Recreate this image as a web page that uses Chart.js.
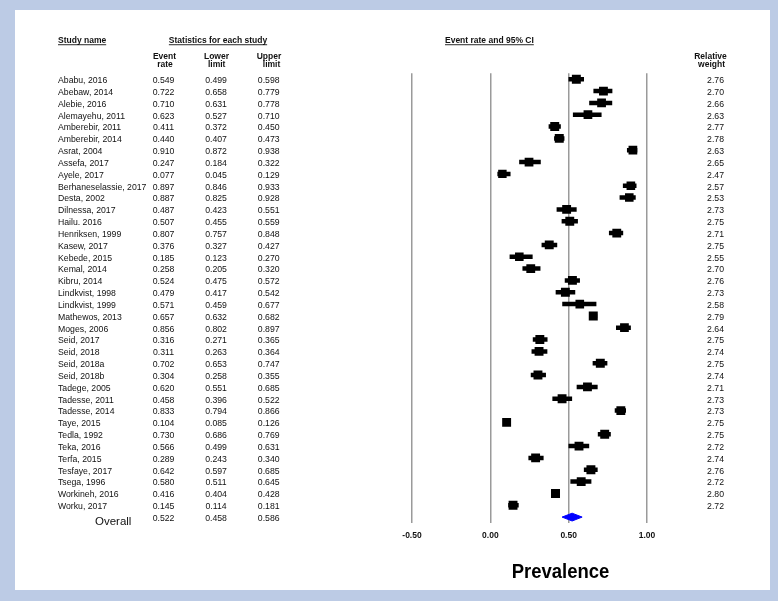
<!DOCTYPE html>
<html>
<head>
<meta charset="utf-8">
<script src="https://cdn.jsdelivr.net/npm/chart.js@4/dist/chart.umd.min.js"></script>
<style>
html,body{margin:0;padding:0;background:#bccbe5;}
canvas{display:block;}
</style>
</head>
<body>
<canvas id="c" width="778" height="601"></canvas>
<script>
// ---------------- data ----------------
const studyNames = ["Ababu, 2016","Abebaw, 2014","Alebie, 2016","Alemayehu, 2011","Amberebir, 2011","Amberebir, 2014","Asrat, 2004","Assefa, 2017","Ayele, 2017","Berhaneselassie, 2017","Desta, 2002","Dilnessa, 2017","Hailu. 2016","Henriksen, 1999","Kasew, 2017","Kebede, 2015","Kemal, 2014","Kibru, 2014","Lindkvist, 1998","Lindkvist, 1999","Mathewos, 2013","Moges, 2006","Seid, 2017","Seid, 2018","Seid, 2018a","Seid, 2018b","Tadege, 2005","Tadesse, 2011","Tadesse, 2014","Taye, 2015","Tedla, 1992","Teka, 2016","Terfa, 2015","Tesfaye, 2017","Tsega, 1996","Workineh, 2016","Worku, 2017"];
const eventRate = [0.549,0.722,0.710,0.623,0.411,0.440,0.910,0.247,0.077,0.897,0.887,0.487,0.507,0.807,0.376,0.185,0.258,0.524,0.479,0.571,0.657,0.856,0.316,0.311,0.702,0.304,0.620,0.458,0.833,0.104,0.730,0.566,0.289,0.642,0.580,0.416,0.145];
const lowerLimit = [0.499,0.658,0.631,0.527,0.372,0.407,0.872,0.184,0.045,0.846,0.825,0.423,0.455,0.757,0.327,0.123,0.205,0.475,0.417,0.459,0.632,0.802,0.271,0.263,0.653,0.258,0.551,0.396,0.794,0.085,0.686,0.499,0.243,0.597,0.511,0.404,0.114];
const upperLimit = [0.598,0.779,0.778,0.710,0.450,0.473,0.938,0.322,0.129,0.933,0.928,0.551,0.559,0.848,0.427,0.270,0.320,0.572,0.542,0.677,0.682,0.897,0.365,0.364,0.747,0.355,0.685,0.522,0.866,0.126,0.769,0.631,0.340,0.685,0.645,0.428,0.181];
const relativeWeight = [2.76,2.70,2.66,2.63,2.77,2.78,2.63,2.65,2.47,2.57,2.53,2.73,2.75,2.71,2.75,2.55,2.70,2.76,2.73,2.58,2.79,2.64,2.75,2.74,2.75,2.74,2.71,2.73,2.73,2.75,2.75,2.72,2.74,2.76,2.72,2.80,2.72];
const overallLabel = "Overall";
const overallRate = 0.522;
const overallLower = 0.458;
const overallUpper = 0.586;
const xTickValues = [-0.5, 0, 0.5, 1.0];
const xTitle = "Prevalence";

// ---------------- build ----------------
const FONT = '"Liberation Sans", Arial, Helvetica, sans-serif';
const overallRow = studyNames.length;
const DIAMOND_HALF = 0.33;

const ciData = [];
lowerLimit.forEach((lo, i) => {
  ciData.push({x: lo, y: i});
  ciData.push({x: upperLimit[i], y: i});
  ciData.push({x: lo, y: null});
});
const boxData = eventRate.map((v, i) => ({x: v, y: i}));
const boxRadius = relativeWeight.map(w => 9 * Math.sqrt(w / 2.8) / Math.SQRT2);
const diamondData = [
  {x: overallLower, y: overallRow},
  {x: overallRate, y: overallRow - DIAMOND_HALF},
  {x: overallUpper, y: overallRow},
  {x: overallRate, y: overallRow + DIAMOND_HALF},
  {x: overallLower, y: overallRow}
];

function uText(ctx, s, x, y, align) {
  ctx.textAlign = align;
  ctx.fillText(s, x, y);
  const w = ctx.measureText(s).width;
  let x0 = x;
  if (align === 'center') x0 = x - w / 2;
  else if (align === 'right') x0 = x - w;
  ctx.fillRect(x0, y + 1.8, w, 0.9);
}

const tablePlugin = {
  id: 'tablePlugin',
  beforeDraw(chart) {
    const ctx = chart.ctx;
    ctx.save();
    ctx.fillStyle = '#bccbe5';
    ctx.fillRect(0, 0, chart.width, chart.height);
    ctx.fillStyle = '#ffffff';
    ctx.fillRect(15, 10, 755, 580);
    ctx.restore();
  },
  afterDraw(chart) {
    const ctx = chart.ctx;
    const ys = chart.scales.y;
    ctx.save();
    ctx.fillStyle = '#111';
    ctx.textBaseline = 'alphabetic';
    // headers
    ctx.font = 'bold 8.5px ' + FONT;
    uText(ctx, 'Study name', 58, 42.5, 'left');
    uText(ctx, 'Statistics for each study', 218, 42.5, 'center');
    uText(ctx, 'Event rate and 95% CI', 445, 42.5, 'left');
    ctx.textAlign = 'center';
    ctx.fillText('Event', 164.5, 58.7);
    ctx.fillText('rate', 165, 67.3);
    ctx.fillText('Lower', 216.5, 58.7);
    ctx.fillText('limit', 216.7, 67.3);
    ctx.fillText('Upper', 269, 58.7);
    ctx.fillText('limit', 271.5, 67.3);
    ctx.fillText('Relative', 710.5, 58.7);
    ctx.fillText('weight', 711.5, 67.3);
    // rows
    ctx.font = '8.7px ' + FONT;
    studyNames.forEach((n, i) => {
      const py = ys.getPixelForValue(i) + 3.9;
      ctx.textAlign = 'left';
      ctx.fillText(n, 58, py);
      ctx.textAlign = 'center';
      ctx.fillText(eventRate[i].toFixed(3), 163.5, py);
      ctx.fillText(lowerLimit[i].toFixed(3), 216, py);
      ctx.fillText(upperLimit[i].toFixed(3), 268.7, py);
      ctx.textAlign = 'right';
      ctx.fillText(relativeWeight[i].toFixed(2), 724, py);
    });
    // overall
    const oy = ys.getPixelForValue(overallRow);
    ctx.textAlign = 'center';
    ctx.fillText(overallRate.toFixed(3), 163.5, oy + 4);
    ctx.fillText(overallLower.toFixed(3), 216, oy + 4);
    ctx.fillText(overallUpper.toFixed(3), 268.7, oy + 4);
    ctx.font = '11.5px ' + FONT;
    ctx.textAlign = 'left';
    ctx.fillText(overallLabel, 95, oy + 8.3);
    // x title
    ctx.save();
    ctx.font = 'bold 20px ' + FONT;
    ctx.translate(560.5, 578.3);
    ctx.scale(0.925, 1);
    ctx.textAlign = 'center';
    ctx.fillStyle = '#000';
    ctx.fillText(xTitle, 0, 0);
    ctx.restore();
    ctx.restore();
  }
};

new Chart(document.getElementById('c'), {
  type: 'scatter',
  data: {
    datasets: [
      {
        label: 'box',
        data: boxData,
        pointStyle: 'rect',
        pointRadius: boxRadius,
        pointHoverRadius: boxRadius,
        backgroundColor: '#000',
        pointBackgroundColor: '#000',
        borderColor: '#000',
        pointBorderWidth: 0,
        showLine: false
      },
      {
        label: 'ci',
        data: ciData,
        showLine: true,
        spanGaps: false,
        borderColor: '#000',
        borderWidth: 4.5,
        pointRadius: 0,
        pointHoverRadius: 0,
        fill: false
      },
      {
        label: 'overall',
        data: diamondData,
        showLine: true,
        fill: 'shape',
        borderColor: '#0000ff',
        backgroundColor: '#0000ff',
        borderWidth: 1,
        pointRadius: 0,
        pointHoverRadius: 0,
        tension: 0
      }
    ]
  },
  options: {
    responsive: false,
    animation: false,
    devicePixelRatio: 1,
    layout: { padding: { left: 412, right: 131, top: 73.3, bottom: 52.8 } },
    plugins: { legend: { display: false }, tooltip: { enabled: false } },
    scales: {
      x: {
        type: 'linear',
        min: -0.5,
        max: 1.0,
        afterBuildTicks: (s) => { s.ticks = xTickValues.map(v => ({value: v})); },
        ticks: {
          callback: (v) => Number(v).toFixed(2),
          font: { family: FONT, size: 8.5, weight: 'bold' },
          color: '#111',
          padding: 7.5,
          maxRotation: 0,
          autoSkip: false
        },
        grid: { color: '#9a9a9a', lineWidth: 1.5, drawTicks: false },
        border: { display: false }
      },
      y: {
        type: 'linear',
        reverse: true,
        min: -0.5,
        max: overallRow + 0.5,
        display: false
      }
    }
  },
  plugins: [tablePlugin]
});
</script>
</body>
</html>
